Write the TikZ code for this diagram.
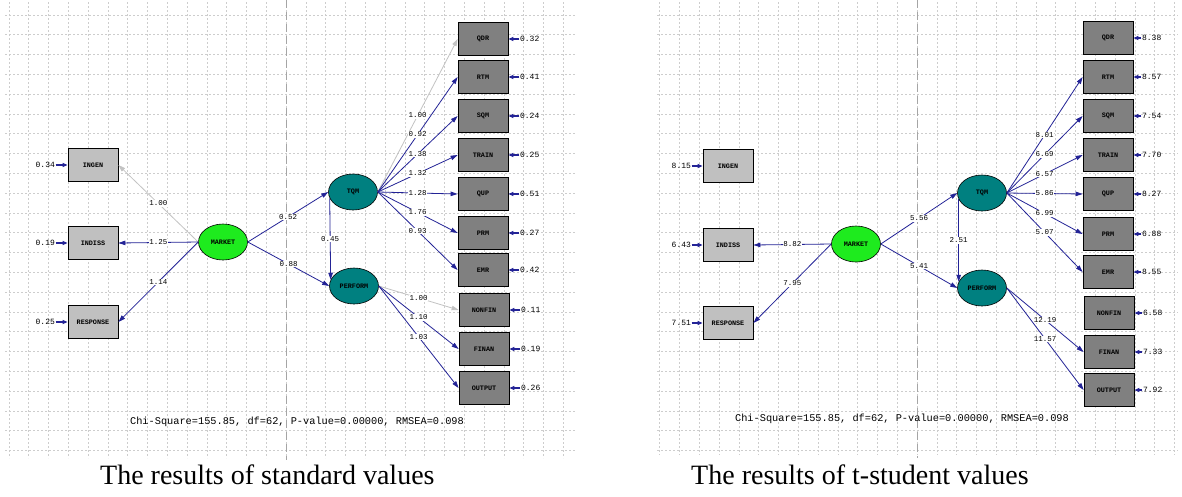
\documentclass[tikz,border=0pt]{standalone}
\usepackage{fontspec}
\setmainfont{Liberation Serif}
\newfontfamily\monof{Liberation Mono}
\usetikzlibrary{arrows.meta,shapes.geometric,calc}
\definecolor{navyline}{RGB}{35,35,150}
\definecolor{fixgray}{RGB}{195,195,195}
\definecolor{boxlight}{RGB}{192,192,192}
\definecolor{boxdark}{RGB}{128,128,128}
\definecolor{latgreen}{RGB}{30,235,30}
\definecolor{latteal}{RGB}{0,128,128}
\definecolor{gridc}{RGB}{205,205,205}
\definecolor{midc}{RGB}{165,165,165}
\begin{document}
\begin{tikzpicture}[x=1pt,y=-1pt,
  obsbox/.style={draw=black, line width=0.8pt, minimum width=50pt, minimum height=33pt, inner sep=0pt, font=\monof\bfseries\fontsize{6.8}{8}\selectfont},
  lightbox/.style={obsbox, fill=boxlight},
  darkbox/.style={obsbox, fill=boxdark},
  latent/.style={ellipse, draw=black, line width=0.6pt, minimum width=49pt, minimum height=36pt, inner sep=0pt, font=\monof\bfseries\fontsize{6.8}{8}\selectfont},
  greenlat/.style={latent, fill=latgreen},
  teallat/.style={latent, fill=latteal},
  pathline/.style={draw=navyline, line width=0.8pt, -{Triangle[length=7pt,width=4.5pt]}},
  fixline/.style={pathline, draw=fixgray},
  elabel/.style={fill=white, inner sep=0.6pt, font=\monof\fontsize{7.5}{8}\selectfont},
  errval/.style={inner sep=0.5pt, font=\monof\fontsize{8}{9}\selectfont},
  errarrow/.style={draw=navyline, line width=1.2pt, -{Triangle[length=5pt,width=4pt]}},
  gridline/.style={draw=gridc, line width=0.5pt, dash pattern=on 2pt off 2pt},
  midline/.style={draw=midc, line width=1pt, dash pattern=on 8pt off 4pt},
  chitext/.style={inner sep=0pt, font=\monof\fontsize{10.3}{12}\selectfont},
  captext/.style={inner sep=0pt, anchor=base west, font=\fontsize{28}{32}\selectfont}
]
\useasboundingbox (0,0) rectangle (1182,496);
\fill[white] (0,0) rectangle (1182,496);
% ---------- grids ----------
\foreach \k in {-14,...,14} \draw[gridline] ({286+19.8*\k},2) -- ({286+19.8*\k},458);
\foreach \k in {-9,...,13} \draw[gridline] (5,{193+19.8*\k}) -- (575,{193+19.8*\k});
\foreach \k in {-13,...,13} \draw[gridline] ({917+19.8*\k},2) -- ({917+19.8*\k},455);
\foreach \k in {-9,...,13} \draw[gridline] (657,{193+19.8*\k}) -- (1178,{193+19.8*\k});
\draw[midline] (286,0) -- (286,460);
\draw[midline] (917,0) -- (917,458);

% ================= LEFT: standard values =================
\node[lightbox] (ingen) at (93,165) {INGEN};
\node[lightbox] (indiss) at (93,243) {INDISS};
\node[lightbox] (response) at (93,322) {RESPONSE};
\node[greenlat] (market) at (223,242) {MARKET};
\node[teallat] (tqm) at (353,192) {TQM};
\node[teallat] (perform) at (354,286) {PERFORM};
\node[darkbox] (qdr) at (483,39) {QDR};
\node[darkbox] (rtm) at (483,77) {RTM};
\node[darkbox] (sqm) at (483,116) {SQM};
\node[darkbox] (train) at (483,155) {TRAIN};
\node[darkbox] (qup) at (483,194) {QUP};
\node[darkbox] (prm) at (483,233) {PRM};
\node[darkbox] (emr) at (483,270) {EMR};
\node[darkbox] (nonfin) at (484,310) {NONFIN};
\node[darkbox] (finan) at (484,349) {FINAN};
\node[darkbox] (output) at (484,388) {OUTPUT};

\draw[fixline] (market.west) -- node[elabel]{1.00} (ingen.east);
\draw[pathline] (market.west) -- node[elabel]{1.25} (indiss.east);
\draw[pathline] (market.west) -- node[elabel]{1.14} (response.east);
\draw[pathline] (market.east) -- node[elabel]{0.52} (tqm.west);
\draw[pathline] (market.east) -- node[elabel]{0.88} (perform.west);
\draw[pathline] (tqm.195) -- node[elabel]{0.45} (perform.165);
\draw[fixline] (tqm.east) -- node[elabel]{1.00} (qdr.west);
\draw[pathline] (tqm.east) -- node[elabel]{0.92} (rtm.west);
\draw[pathline] (tqm.east) -- node[elabel]{1.38} (sqm.west);
\draw[pathline] (tqm.east) -- node[elabel]{1.32} (train.west);
\draw[pathline] (tqm.east) -- node[elabel]{1.28} (qup.west);
\draw[pathline] (tqm.east) -- node[elabel]{1.76} (prm.west);
\draw[pathline] (tqm.east) -- node[elabel]{0.93} (emr.west);
\draw[fixline] (perform.east) -- node[elabel]{1.00} (nonfin.west);
\draw[pathline] (perform.east) -- node[elabel]{1.10} (finan.west);
\draw[pathline] (perform.east) -- node[elabel]{1.03} (output.west);

\foreach \b/\v/\n in {ingen/0.34/a1, indiss/0.19/a2, response/0.25/a3}{
  \node[errval, anchor=east] (\n) at ($(\b.west)+(-12,0)$) {\v};
  \draw[errarrow] (\n.east) -- (\b.west);
}
\foreach \b/\v/\n in {qdr/0.32/b1, rtm/0.41/b2, sqm/0.24/b3, train/0.25/b4, qup/0.51/b5, prm/0.27/b6, emr/0.42/b7, nonfin/0.11/b8, finan/0.19/b9, output/0.26/b10}{
  \node[errval, anchor=west] (\n) at ($(\b.east)+(11,0)$) {\v};
  \draw[errarrow] (\n.west) -- (\b.east);
}
\node[chitext] (chi1) at (297,422) {Chi-Square=155.85, df=62, P-value=0.00000, RMSEA=0.098};
\node[captext] (cap1) at (100,484) {The results of standard values};

% ================= RIGHT: t values =================
\node[lightbox] (ingen2) at (728,166) {INGEN};
\node[lightbox] (indiss2) at (728,245) {INDISS};
\node[lightbox] (response2) at (728,323) {RESPONSE};
\node[greenlat] (market2) at (856,244) {MARKET};
\node[teallat] (tqm2) at (982,193) {TQM};
\node[teallat] (perform2) at (982,288) {PERFORM};
\node[darkbox] (qdr2) at (1108,38) {QDR};
\node[darkbox] (rtm2) at (1108,77) {RTM};
\node[darkbox] (sqm2) at (1108,116) {SQM};
\node[darkbox] (train2) at (1108,155) {TRAIN};
\node[darkbox] (qup2) at (1108,194) {QUP};
\node[darkbox] (prm2) at (1108,234) {PRM};
\node[darkbox] (emr2) at (1108,272) {EMR};
\node[darkbox] (nonfin2) at (1109,313) {NONFIN};
\node[darkbox] (finan2) at (1109,352) {FINAN};
\node[darkbox] (output2) at (1109,390) {OUTPUT};

\draw[pathline] (market2.west) -- node[elabel]{8.82} (indiss2.east);
\draw[pathline] (market2.west) -- node[elabel]{7.95} (response2.east);
\draw[pathline] (market2.east) -- node[elabel]{5.56} (tqm2.west);
\draw[pathline] (market2.east) -- node[elabel]{5.41} (perform2.west);
\draw[pathline] (tqm2.195) -- node[elabel]{2.51} (perform2.165);
\draw[pathline] (tqm2.east) -- node[elabel]{8.01} (rtm2.west);
\draw[pathline] (tqm2.east) -- node[elabel]{6.69} (sqm2.west);
\draw[pathline] (tqm2.east) -- node[elabel]{6.57} (train2.west);
\draw[pathline] (tqm2.east) -- node[elabel]{5.86} (qup2.west);
\draw[pathline] (tqm2.east) -- node[elabel]{6.99} (prm2.west);
\draw[pathline] (tqm2.east) -- node[elabel]{5.07} (emr2.west);
\draw[pathline] (perform2.east) -- node[elabel]{12.19} (finan2.west);
\draw[pathline] (perform2.east) -- node[elabel]{11.57} (output2.west);

\foreach \b/\v/\n in {ingen2/8.15/c1, indiss2/6.43/c2, response2/7.51/c3}{
  \node[errval, anchor=east] (\n) at ($(\b.west)+(-11,0)$) {\v};
  \draw[errarrow] (\n.east) -- (\b.west);
}
\foreach \b/\v/\n in {qdr2/8.38/d1, rtm2/8.57/d2, sqm2/7.54/d3, train2/7.70/d4, qup2/8.27/d5, prm2/6.88/d6, emr2/8.55/d7, nonfin2/6.58/d8, finan2/7.33/d9, output2/7.92/d10}{
  \node[errval, anchor=west] (\n) at ($(\b.east)+(8,0)$) {\v};
  \draw[errarrow] (\n.west) -- (\b.east);
}
\node[chitext] (chi2) at (902,419) {Chi-Square=155.85, df=62, P-value=0.00000, RMSEA=0.098};
\node[captext] (cap2) at (691,484) {The results of t-student values};
\end{tikzpicture}
\end{document}
